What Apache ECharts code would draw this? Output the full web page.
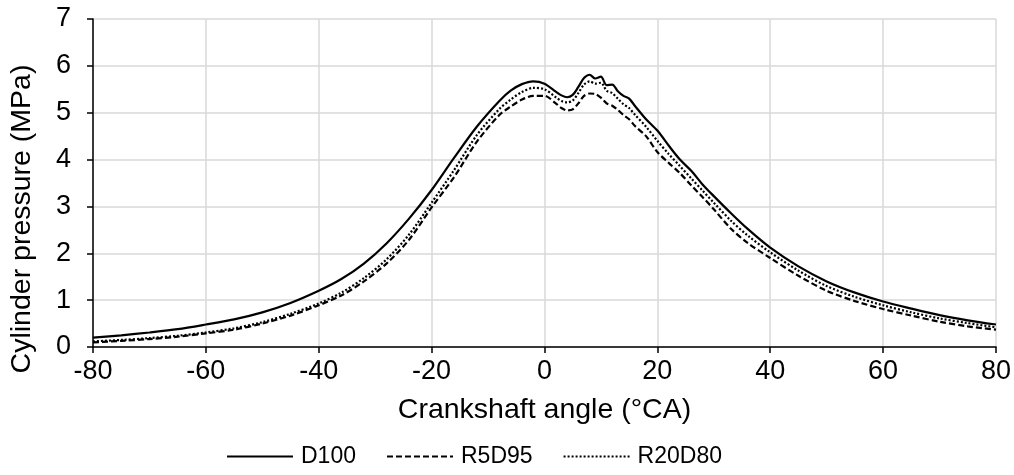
<!DOCTYPE html>
<html>
<head>
<meta charset="utf-8">
<script src="https://cdn.jsdelivr.net/npm/echarts@6/dist/echarts.min.js"></script>
<style>
html,body{margin:0;padding:0;background:#fff;}
#chart{width:1014px;height:475px;}
</style>
</head>
<body>
<div id="chart"></div>
<script>
const angles = [-80,-75,-70,-65,-60,-55,-50,-45,-40,-36,-32,-28,-24,-20,-16,-12,-8,-6,-4,-2,0,2,3,4,5,6,7,8,9,10,11,12,13,14,15,16,18,20,22,24,26,28,30,33,36,40,45,50,55,60,65,70,75,80];
const d100 = [0.20,0.25,0.31,0.38,0.48,0.59,0.74,0.94,1.20,1.45,1.78,2.21,2.74,3.35,4.04,4.70,5.25,5.47,5.61,5.67,5.62,5.45,5.37,5.33,5.38,5.55,5.74,5.81,5.73,5.77,5.59,5.60,5.46,5.36,5.30,5.15,4.86,4.62,4.30,4.00,3.76,3.47,3.22,2.86,2.52,2.12,1.72,1.40,1.16,0.97,0.82,0.68,0.57,0.48];
const r5d95 = [0.10,0.13,0.17,0.22,0.29,0.37,0.50,0.67,0.89,1.10,1.40,1.78,2.29,2.98,3.63,4.38,4.95,5.13,5.28,5.36,5.36,5.20,5.10,5.05,5.07,5.20,5.36,5.41,5.40,5.32,5.20,5.15,5.06,4.95,4.86,4.72,4.50,4.16,3.93,3.71,3.45,3.20,2.94,2.53,2.22,1.90,1.52,1.20,0.98,0.81,0.67,0.54,0.44,0.37];
const r20d80 = [0.12,0.15,0.19,0.24,0.31,0.40,0.53,0.71,0.93,1.16,1.47,1.87,2.40,3.08,3.78,4.52,5.08,5.28,5.44,5.53,5.50,5.33,5.25,5.22,5.26,5.42,5.60,5.67,5.62,5.64,5.47,5.42,5.30,5.18,5.10,4.96,4.70,4.40,4.12,3.86,3.60,3.34,3.08,2.70,2.38,2.02,1.63,1.30,1.07,0.89,0.74,0.61,0.51,0.42];

const seriesNames = ['D100','R5D95','R20D80'];
const seriesData = [d100, r5d95, r20d80];
const lineTypes = ['solid',[6,3],[2,2]];

const chart = echarts.init(document.getElementById('chart'));
const font = 'Liberation Sans, Arial, sans-serif';
chart.setOption({
  animation:false,
  backgroundColor:'#ffffff',
  textStyle:{fontFamily:font,color:'#000'},
  grid:{left:93,right:16,top:19,bottom:128,containLabel:false},
  legend:{
    top:445,left:226,padding:0,
    itemWidth:66,itemHeight:14,itemGap:30,
    itemStyle:{opacity:0},
    textStyle:{fontFamily:font,fontSize:23,color:'#000',padding:[0,0,0,3]},
    data:seriesNames.map(n=>({name:n}))
  },
  xAxis:{
    type:'value',min:-80,max:80,interval:20,
    name:'Crankshaft angle (°CA)',nameLocation:'middle',nameGap:49,
    nameTextStyle:{fontFamily:font,fontSize:28.5,color:'#000'},
    axisLine:{onZero:false,lineStyle:{color:'#000',width:1.5}},
    axisTick:{show:true,length:6,lineStyle:{color:'#000',width:1.5}},
    axisLabel:{fontFamily:font,fontSize:27,color:'#000',margin:11},
    splitLine:{show:true,lineStyle:{color:'#d9d9d9',width:1.5}}
  },
  yAxis:{
    type:'value',min:0,max:7,interval:1,
    name:'Cylinder pressure (MPa)',nameLocation:'middle',nameGap:56,nameRotate:90,
    nameTextStyle:{fontFamily:font,fontSize:28.5,color:'#000',padding:[0,72,0,0]},
    axisLine:{show:true,onZero:false,lineStyle:{color:'#000',width:1.5}},
    axisTick:{show:true,length:6,lineStyle:{color:'#000',width:1.5}},
    axisLabel:{fontFamily:font,fontSize:27,color:'#000',margin:22},
    splitLine:{show:true,lineStyle:{color:'#d9d9d9',width:1.5}}
  },
  series: seriesNames.map((n,i)=>({
    name:n,type:'line',
    data: angles.map((a,j)=>[a, seriesData[i][j]]),
    smooth:0.3,showSymbol:false,symbol:'none',
    lineStyle:{color:'#000',width:2.2,type:lineTypes[i]},
    itemStyle:{color:'#000'},
    z: 3-i
  }))
});
</script>
</body>
</html>
